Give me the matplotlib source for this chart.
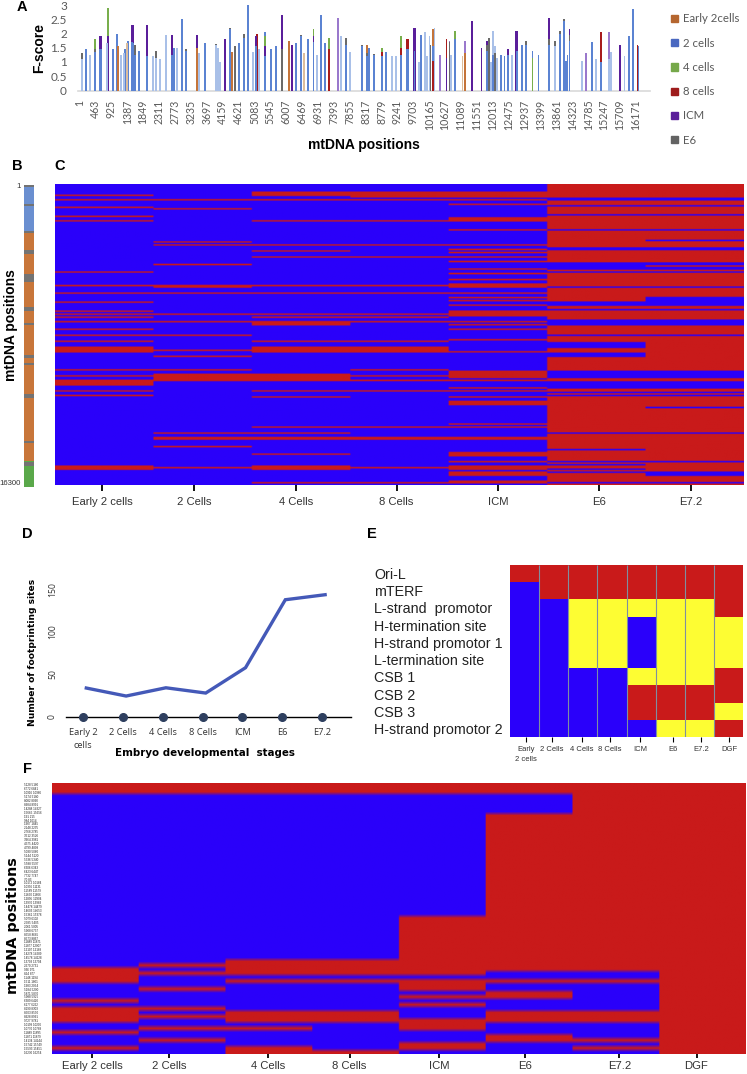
import numpy as np
import matplotlib
matplotlib.use('Agg')
import matplotlib.pyplot as plt
from matplotlib.colors import ListedColormap
from matplotlib.patches import Patch

W, H = 747, 1074

BLUE = '#2a00fa'
RED = '#c91a1a'
YELLOW = '#fdfd33'
GREY_TXT = '#595959'

# panel A, F-score per position (stacked look, tallest drawn first)
stage_legend = ['Early 2cells', '2 cells', '4 cells', '8 cells', 'ICM', 'E6']
legend_colors = ['#b5662f', '#4a68c0', '#76a84a', '#9e1c1c', '#5a1e9a', '#636363']

two_pos = [199, 451, 595, 615, 635, 984, 1080, 1323, 1410, 1516, 1536, 1556, 1613, 1730, 1962, 2689, 2747,
           2970, 3096, 3648, 4375, 4637, 4772, 4908, 5131, 5402, 5567, 5703, 6303, 6429, 6652, 6798, 7011,
           7137, 7738, 8203, 8349, 8416, 8562, 8784, 8910, 9337, 9510, 9530, 9550, 9734, 9918, 10267, 10916,
           11836, 12243, 12349, 12446, 12708, 12863, 12979, 13164, 13339, 13649, 13969, 14075, 14133, 14182,
           14240, 14899, 15151, 15966, 16082, 16246, 5402, 12020]
two_val = [1.45, 1.35, 1.45, 1.45, 1.45, 1.45, 2.0, 1.45, 1.75, 1.7, 1.7, 1.65, 1.25, 1.4, 1.2, 1.25, 1.5,
           2.5, 1.4, 1.65, 2.15, 1.65, 1.85, 3.0, 1.55, 2.05, 1.45, 1.55, 1.65, 1.9, 1.8, 1.7, 2.65,
           1.65, 1.6, 1.55, 1.2, 1.5, 1.25, 1.2, 1.35, 1.25, 1.45, 1.45, 1.45, 1.4, 1.95, 1.55, 1.8,
           1.4, 1.25, 1.2, 1.25, 1.4, 1.6, 1.6, 1.4, 1.25, 1.6, 2.0, 2.45, 1.05, 1.25,
           1.75, 1.7, 1.0, 1.9, 2.85, 1.55, 1.2, 1.25]
pale_pos = [73, 305, 790, 1197, 1294, 1371, 2147, 2234, 2340, 2515, 2825, 3474, 3968, 4036, 4084, 4511,
            5053, 5228, 6914, 7602, 7864, 9075, 9201, 9869, 10044, 10092, 10170, 10315, 10799, 11952, 12020,
            12078, 12127, 12563, 13823, 14598, 15015, 15394, 15452, 15840]
pale_val = [1.1, 1.25, 1.65, 1.25, 1.3, 1.65, 1.2, 1.15, 1.1, 1.95, 1.5, 1.3, 1.6, 1.5, 1.0, 1.55,
            1.35, 1.45, 1.25, 1.9, 1.35, 1.2, 1.2, 1.0, 2.05, 1.2, 1.9, 2.2, 1.25, 1.0, 2.1,
            1.55, 1.15, 1.25, 1.55, 1.05, 1.1, 1.1, 1.35, 1.2]
early_pos = [1129, 3416, 4423, 6090, 8349, 10267, 11197]
early_val = [1.55, 1.5, 1.35, 1.75, 1.6, 2.15, 1.3]
tan_pos = [6516, 11129, 1371]
tan_val = [1.3, 1.2, 1.65]
four_pos = [451, 838, 5402, 6798, 7243, 8784, 9337, 10916, 13164]
four_val = [1.8, 2.9, 1.9, 2.15, 1.85, 1.5, 1.9, 2.1, 1.15]
eight_pos = [5150, 7243, 8784, 9337, 9510, 9530, 9550, 10267, 10664, 15151, 16217]
eight_val = [2.0, 1.45, 1.35, 1.5, 1.8, 1.8, 1.8, 1.05, 1.8, 2.05, 1.6]
icm_pos = [595, 615, 635, 838, 1516, 1536, 1556, 1962, 2689, 3416, 4230, 5131, 5402, 5877, 6168, 6798,
           9714, 9734, 9754, 10664, 11400, 11681, 11836, 12446, 12688, 12708, 12728, 13649, 14240, 15704]
icm_val = [1.9, 1.9, 1.9, 1.9, 2.3, 2.3, 2.3, 2.3, 1.95, 1.95, 1.8, 1.9, 1.55, 2.65, 1.6, 1.9,
           2.2, 2.2, 2.2, 1.15, 2.45, 1.5, 1.75, 1.45, 2.1, 2.1, 2.1, 2.55, 2.15, 1.6]
icm_pale_pos = [7515, 10480, 10751, 11197, 14724, 15394]
icm_pale_val = [2.55, 1.25, 1.75, 1.75, 1.3, 2.05]
e6_pos = [73, 451, 1613, 2234, 2970, 3096, 3968, 4375, 4511, 4772, 5877, 6429, 7737, 8203, 8349, 8562,
          10199, 10751, 11894, 11852, 12078, 12979, 13649, 13823, 13969, 14075, 14240]
e6_val = [1.3, 1.45, 1.6, 1.4, 2.52, 1.45, 1.62, 2.18, 1.55, 2.0, 1.45, 1.95, 1.85, 1.6, 1.3, 1.28,
          1.6, 1.7, 1.85, 1.6, 1.3, 1.75, 1.8, 1.75, 2.1, 2.5, 1.95]

tick_a = list(range(1, 16172, 462))

# panel B, strip of mtDNA regions
strip_start = [1, 2480, 14880]
strip_end = [2480, 14880, 16300]
strip_colors = ['#6a8fd0', '#c8763a', '#5aa84a']
band_pos = [20, 1026, 2484, 3510, 4806, 6588, 7452, 9180, 9612, 11286, 13824, 14958]
band_len = [100, 100, 110, 230, 430, 220, 110, 140, 110, 220, 110, 230]

# panel C, rows holding a footprint (first five stages) or lacking one (last two)
c_stages = ['Early 2 cells', '2 Cells', '4 Cells', '8 Cells', 'ICM', 'E6', 'E7.2']
c_ticks = [0.477, 1.41, 2.447, 3.47, 4.5, 5.53, 6.457]
c_nrows = 200
early_red = [7, 10, 15, 21, 24, 58, 67, 72, 78, 84, 86, 88, 91, 96, 100, 104, 108, 109, 110, 111, 123, 127,
             130, 131, 132, 133, 137, 140, 187, 188, 189]
two_red = [10, 16, 38, 40, 53, 67, 68, 72, 86, 91, 100, 110, 114, 123, 126, 127, 128, 129, 130, 165, 168,
           169, 174, 188]
four_red = [5, 6, 7, 10, 24, 40, 44, 48, 67, 72, 86, 88, 91, 92, 93, 104, 108, 109, 110, 111, 126, 127, 128,
            129, 130, 137, 141, 161, 165, 168, 169, 179, 187, 188, 189, 198]
eight_red = [5, 6, 7, 8, 10, 24, 40, 48, 67, 72, 86, 88, 91, 104, 108, 109, 110, 111, 123, 127, 130, 137,
             161, 168, 169, 188, 198]
icm_red = [5, 6, 7, 8, 10, 13, 22, 23, 24, 30, 40, 43, 45, 48, 51, 56, 59, 63, 66, 67, 68, 72, 75, 77, 80,
           84, 85, 86, 87, 91, 93, 96, 103, 111, 124, 125, 126, 127, 128, 130, 135, 137, 141, 144, 145, 146,
           159, 161, 168, 169, 178, 179, 180, 184, 187, 188, 189, 191, 192, 193, 197, 198]
e6_blue = [9, 10, 14, 20, 30, 42, 43, 52, 53, 54, 55, 56, 58, 68, 78, 79, 80, 83, 90, 91, 92, 93, 100, 105,
           106, 107, 108, 112, 113, 114, 124, 125, 126, 127, 128, 131, 132, 133, 134, 135, 138, 140, 165, 176,
           184, 186, 189, 191, 198]
e72_blue = [9, 10, 14, 20, 30, 37, 42, 43, 52, 53, 55, 56, 58, 68, 75, 76, 77, 78, 79, 80, 83, 90, 91, 92, 93,
            100, 124, 125, 126, 127, 128, 131, 132, 133, 134, 135, 138, 140, 148, 165, 184, 191, 192, 193, 198]

# panel D
d_stages = ['Early 2\ncells', '2 Cells', '4 Cells', '8 Cells', 'ICM', 'E6', 'E7.2']
d_sites = [33.7, 24.3, 34, 27.8, 57.6, 137.5, 143.4]
d_dots = [0, 0, 0, 0, 0, 0, 0]

# panel E
e_elements = ['Ori-L', 'mTERF', 'L-strand  promotor', 'H-termination site', 'H-strand promotor 1',
              'L-termination site', 'CSB 1', 'CSB 2', 'CSB 3', 'H-strand promotor 2']
e_stages = ['Early\n2 cells', '2 Cells', '4 Cells', '8 Cells', 'ICM', 'E6', 'E7.2', 'DGF']
e_ticks = [0.55, 1.45, 2.47, 3.43, 4.46, 5.6, 6.56, 7.53]
# 0 blue, 1 red, 2 yellow
e_ori_l = [1, 1, 1, 1, 1, 1, 1, 1]
e_mterf = [0, 1, 1, 1, 1, 1, 1, 1]
e_lsp = [0, 0, 2, 2, 2, 2, 2, 1]
e_hterm = [0, 0, 2, 2, 0, 2, 2, 2]
e_hsp1 = [0, 0, 2, 2, 0, 2, 2, 2]
e_lterm = [0, 0, 2, 2, 0, 2, 2, 2]
e_csb1 = [0, 0, 0, 0, 2, 2, 2, 1]
e_csb2 = [0, 0, 0, 0, 1, 1, 1, 1]
e_csb3 = [0, 0, 0, 0, 1, 1, 1, 2]
e_hsp2 = [0, 0, 0, 0, 0, 2, 2, 1]

# panel F
f_stages = ['Early 2 cells', '2 Cells', '4 Cells', '8 Cells', 'ICM', 'E6', 'E7.2', 'DGF']
f_ticks = [0.46, 1.35, 2.49, 3.43, 4.46, 5.45, 6.54, 7.43]
f_labels = ['5128 5180', '6772 6841', '10916 10966', '5174 5180', '8082 8090', '8984 8991', '14288 14327',
            '15665 15656', '191 215', '984 1014', '1907 1845', '2148 2235', '2768 2785', '3512 3526',
            '3964 3981', '4375 4420', '4799 4809', '5030 5060', '5144 5120', '5336 5340', '5588 5597',
            '6306 6343', '6423 6447', '7732 7747', '70 83', '10172 10184', '10396 11131', '11589 11579',
            '11650 11666', '12895 12904', '13970 13983', '14478 14479', '14603 14653', '15361 15378',
            '5079 6102', '2585 5405', '2061 5005', '5908 6737', '8558 8685', '8573 8867', '11889 11871',
            '11877 12007', '12107 12189', '14278 14289', '14578 14128', '13703 13794', '2670 2731', '936 971',
            '824 877', '1148 1194', '1511 1801', '1983 2054', '5184 5200', '5871 5870', '5988 5925',
            '6389 6420', '6177 6262', '8190 8303', '8503 8590', '8928 8991', '9727 9781', '10199 10206',
            '10770 10788', '11889 11895', '11871 11879', '14134 14144', '15742 15749', '15593 15451',
            '16230 16254']
f_early = [0, 1, 2, 47, 48, 49, 50, 55, 57, 58, 59, 60, 63, 67]
f_two = [0, 1, 2, 46, 48, 52, 57, 59, 62, 65]
f_four = [0, 1, 2, 45, 46, 47, 48, 50, 58, 59, 60, 62, 67, 68]
f_eight = [0, 1, 2, 45, 46, 47, 48, 50, 58, 59, 60, 68]
f_icm = [0, 1, 2] + list(range(34, 49)) + [50, 51, 52, 54, 56, 60, 61, 62, 66, 67]
f_e6_blue = [3, 4, 5, 6, 7, 48, 49, 51, 52, 55, 56, 57, 61, 62, 63, 66, 67, 68]
f_e72_blue = [48, 49, 51, 52, 53, 54, 55, 56, 57, 61, 62, 63, 64, 66, 68]


def px_axes(x0, y0, x1, y1):
    return fig.add_axes([x0 / W, 1 - y1 / H, (x1 - x0) / W, (y1 - y0) / H])


def draw_series(ax, pos, val, color):
    bars = ax.bar(pos, val, width=52, color=color, linewidth=0)
    for b, v in zip(bars, val):
        b.set_zorder(10 - v)


def row_flags(rows, n, value=1):
    out = np.full(n, 1 - value)
    out[rows] = value
    return out


def draw_heat(ax, grid):
    # repeat the columns so the smoothing only softens the row edges
    rows, cols = grid.shape
    ax.imshow(np.repeat(grid, 60, axis=1), cmap=ListedColormap([BLUE, RED]), vmin=0, vmax=1, aspect='auto',
              interpolation='bilinear', interpolation_stage='rgba', extent=[0, cols, rows, 0])


plt.rcParams['font.family'] = ['Liberation Sans', 'DejaVu Sans']
fig = plt.figure(figsize=(W / 100, H / 100), dpi=100)

# panel letters
for letter, x, y in [('A', 22, 7), ('B', 17, 166), ('C', 60, 166), ('D', 27, 534), ('E', 372, 534), ('F', 27, 769)]:
    fig.text(x / W, 1 - y / H, letter, fontsize=10.5, fontweight='bold', ha='center', va='center')

# A
ax = px_axes(78, 5, 650, 90.5)
draw_series(ax, pale_pos, pale_val, '#a9c0e8')
draw_series(ax, two_pos, two_val, '#5b83d2')
draw_series(ax, early_pos, early_val, '#c4743a')
draw_series(ax, tan_pos, tan_val, '#dcbd9c')
draw_series(ax, four_pos, four_val, '#78ae4c')
draw_series(ax, eight_pos, eight_val, '#a81c1c')
draw_series(ax, icm_pos, icm_val, '#5a1e9a')
draw_series(ax, icm_pale_pos, icm_pale_val, '#9a78cc')
draw_series(ax, e6_pos, e6_val, '#6a6a6a')
ax.set_xlim(-43, 16580)
ax.set_ylim(0, 3)
for s in ['top', 'left', 'right']:
    ax.spines[s].set_visible(False)
ax.spines['bottom'].set_color('#d9d9d9')
ax.spines['bottom'].set_linewidth(1.2)
ax.set_yticks([0, 0.5, 1, 1.5, 2, 2.5, 3], ['0', '0.5', '1', '1.5', '2', '2.5', '3'],
              fontfamily='Lato', fontsize=8.5, color=GREY_TXT)
ax.set_xticks(tick_a, [str(t) for t in tick_a], rotation=90, fontfamily='Lato', fontsize=7.6, color=GREY_TXT)
ax.tick_params(length=0)
ax.tick_params(axis='x', pad=6.5)
ax.tick_params(axis='y', pad=8)
fig.text(39 / W, 1 - 48 / H, 'F-score', rotation=90, fontsize=10, fontweight='bold', ha='center', va='center')
fig.text(364 / W, 1 - 145 / H, 'mtDNA positions', fontsize=10, fontweight='bold', ha='center', va='center')
handles = [Patch(color=c, label=l) for c, l in zip(legend_colors, stage_legend)]
fig.legend(handles=handles, loc='upper left', bbox_to_anchor=(671 / W, 1 - 13.5 / H), frameon=False,
           prop={'family': 'Lato', 'size': 8.2}, labelcolor=GREY_TXT, handlelength=0.6, handleheight=0.6,
           handletextpad=0.45, labelspacing=1.16, borderpad=0, borderaxespad=0)

# B
ax = px_axes(24, 185, 34, 487)
ax.bar(0, np.array(strip_end) - np.array(strip_start), bottom=strip_start, width=1, color=strip_colors)
ax.bar(0, band_len, bottom=band_pos, width=1, color='#737373', zorder=3)
ax.set_xlim(-0.5, 0.5)
ax.set_ylim(16300, 1)
ax.set_xticks([])
ax.set_yticks([1, 16080], ['1', '16300'], fontsize=5.6, color='#333333')
ax.tick_params(length=0, pad=2)
for s in ax.spines.values():
    s.set_visible(False)
fig.text(11 / W, 1 - 325 / H, 'mtDNA positions', rotation=90, fontsize=10, fontweight='bold', ha='center', va='center')

# C
c_cols = [early_red, two_red, four_red, eight_red, icm_red]
c_grid = np.column_stack([row_flags(r, c_nrows) for r in c_cols]
                         + [row_flags(e6_blue, c_nrows, 0), row_flags(e72_blue, c_nrows, 0)])
ax = px_axes(55, 184, 744, 485)
draw_heat(ax, c_grid)
ax.set_yticks([])
ax.set_xticks(c_ticks, c_stages, fontsize=8.1, color='#333333')
ax.tick_params(axis='x', length=4, width=1.3, pad=5)
for s in ax.spines.values():
    s.set_visible(False)

# D
ax = px_axes(66, 580.6, 351, 716.7)
stage_x = np.arange(7)
ax.plot(stage_x + 0.08, d_sites, color='#4459b8', lw=2.4, solid_joinstyle='miter', clip_on=False)
ax.plot(stage_x, d_dots, 'o', color='#2e3f5f', ms=5.5, clip_on=False, zorder=4)
ax.set_xlim(-0.43, 6.73)
ax.set_ylim(0, 160)
for s in ['top', 'left', 'right']:
    ax.spines[s].set_visible(False)
ax.spines['bottom'].set_linewidth(1)
ax.set_xticks(stage_x, d_stages, fontfamily='Open Sans', fontsize=6.7, color='#333333', linespacing=1.6)
ax.set_yticks([0, 50, 100, 150], ['0', '50', '100', '150'], rotation=90, va='center',
              fontfamily='Open Sans', fontsize=6.2, color='#333333')
ax.tick_params(length=0)
ax.tick_params(axis='x', pad=8)
ax.tick_params(axis='y', pad=6.5)
fig.text(33 / W, 1 - 652 / H, 'Number of footprinting sites', rotation=90, fontfamily='DejaVu Sans', fontsize=6.6,
         fontweight='bold', ha='center', va='center')
fig.text(205 / W, 1 - 753 / H, 'Embryo developmental  stages', fontfamily='DejaVu Sans', fontsize=7.4,
         fontweight='bold', ha='center', va='center')

# E
e_grid = np.array([e_ori_l, e_mterf, e_lsp, e_hterm, e_hsp1, e_lterm, e_csb1, e_csb2, e_csb3, e_hsp2])
ax = px_axes(510, 565, 743, 737)
ax.pcolormesh(np.arange(9), np.arange(11), e_grid, cmap=ListedColormap([BLUE, RED, YELLOW]), vmin=0, vmax=2)
ax.invert_yaxis()
ax.vlines(np.arange(1, 8), 0, 10, color='#7f8fa0', lw=0.8)
ax.set_yticks(np.arange(10) + 0.5, e_elements, fontsize=10.3, color='#222222', ha='left')
ax.tick_params(axis='y', length=0, pad=98)
ax.set_xticks(e_ticks, e_stages, fontsize=5.5, color='#333333', linespacing=1.5)
ax.tick_params(axis='x', length=3.5, width=0.8, pad=3)
for s in ax.spines.values():
    s.set_visible(False)

# F
f_cols = [f_early, f_two, f_four, f_eight, f_icm]
f_nrows = len(f_labels)
f_grid = np.column_stack([row_flags(r, f_nrows) for r in f_cols]
                         + [row_flags(f_e6_blue, f_nrows, 0), row_flags(f_e72_blue, f_nrows, 0),
                            np.ones(f_nrows, dtype=int)])
ax = px_axes(52, 782.7, 746, 1054)
draw_heat(ax, f_grid)
ax.set_yticks(np.arange(f_nrows) + 0.5, f_labels, fontsize=2.2, ha='left', color='#222222')
ax.tick_params(axis='y', length=0, pad=20)
ax.set_xticks(f_ticks, f_stages, fontsize=8.1, color='#333333')
ax.tick_params(axis='x', length=3, width=1.3, pad=2)
for s in ax.spines.values():
    s.set_visible(False)
fig.text(13 / W, 1 - 926 / H, 'mtDNA positions', rotation=90, fontfamily='DejaVu Sans', fontsize=10.4,
         fontweight='bold', ha='center', va='center')

fig.savefig('out.png', dpi=100)
